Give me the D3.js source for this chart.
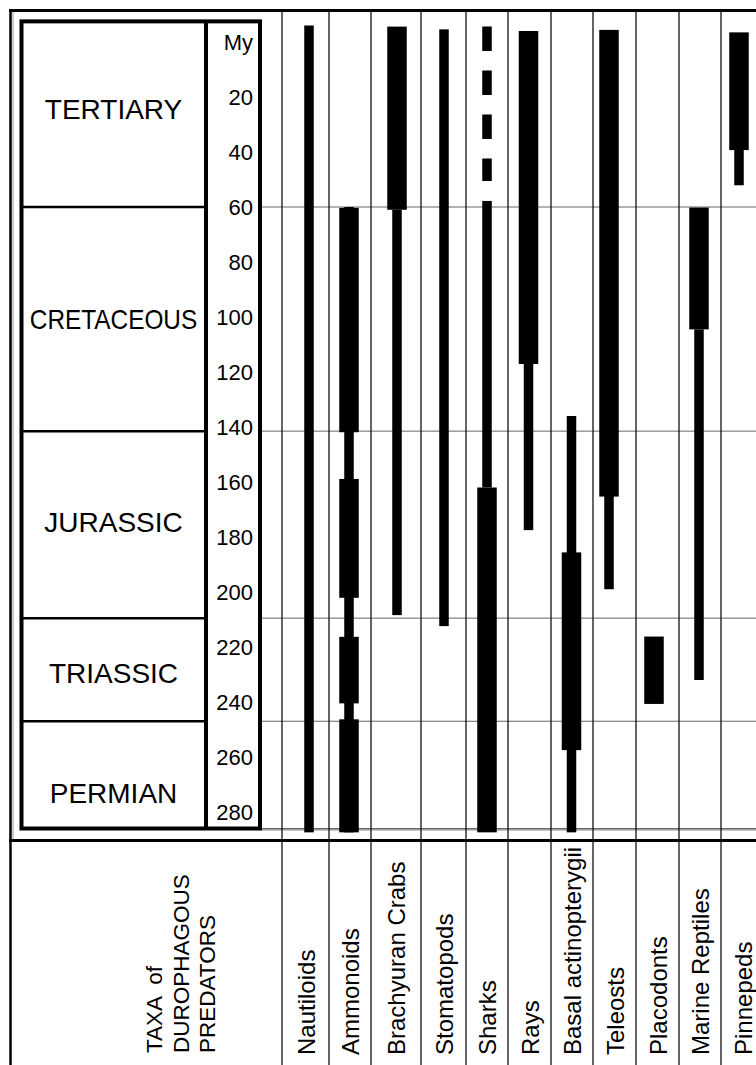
<!DOCTYPE html>
<html>
<head>
<meta charset="utf-8">
<script src="https://cdn.jsdelivr.net/npm/d3@7"></script>
<style>
  body { margin: 0; background: #fff; }
  svg { display: block; }
  text { font-family: "Liberation Sans", Arial, sans-serif; fill: #000; }
</style>
</head>
<body>
<svg width="756" height="1065"></svg>
<script>
// taxa and their stratigraphic ranges (My before present)
var taxa = ["Nautiloids", "Ammonoids", "Brachyuran Crabs", "Stomatopods", "Sharks", "Rays",
  "Basal actinopterygii", "Teleosts", "Placodonts", "Marine Reptiles", "Pinnepeds"]
var thinRanges = [[-6, 287.4], [60, 287.4], [61, 208.4], [-4.6, 212.4], [57.8, 162], [117, 177.5],
  [136, 287.4], [165, 199], null, [104.5, 232], [39, 52.1]]
var thickRanges = [[], [[60.3, 141.9], [158.9, 202.1], [216.3, 240.5], [246.3, 287.4]], [[-5.6, 61]], [],
  [[162, 287.4]], [[-4, 117.1]], [[185.6, 257.5]], [[-4.4, 165.3]], [[216.2, 240.7]], [[60.2, 104.5]], [[-3.5, 39.3]]]
var dashedRanges = [null, null, null, null, [-5.6, 50.5], null, null, null, null, null, null]

var periods = ["TERTIARY", "CRETACEOUS", "JURASSIC", "TRIASSIC", "PERMIAN"]
var periodBounds = [-7.5, 60, 141.5, 209.5, 247, 286]
var ageTicks = [20, 40, 60, 80, 100, 120, 140, 160, 180, 200, 220, 240, 260, 280]

// layout
var colWidths = [47, 42, 50, 45, 42, 43, 42, 43, 43, 42, 43]
var barShift = [3.5, -1, 1, 0.5, 0, -1, -0.5, -5.5, -3.5, -1, -3.5]
var periodLabelAt = [24.4, 100.7, 174.5, 229.5, 273]
var periodSqueeze = [1, 0.87, 1, 1, 1]
var colLeft = 282, thick = 19.5, thin = 9.5

var svg = d3.select('svg')
var width = 756, height = 1065

var y = d3.scaleLinear().domain([0, 280]).range([42, 812])
var edges = [colLeft].concat(Array.from(d3.cumsum(colWidths), d => colLeft + d))
var x = d3.scaleOrdinal().domain(taxa).range(edges.slice(0, -1))
var cx = (t, i) => x(t) + colWidths[i] / 2 + barShift[i]

// grid lines across the taxa columns
svg.append("g")
    .attr("stroke", "#666")
    .attr("stroke-width", 1)
  .selectAll("line")
  .data(periodBounds.slice(1).concat([286.5]))
  .join("line")
    .attr("x1", 261).attr("x2", width)
    .attr("y1", d => y(d)).attr("y2", d => y(d))

// column dividers
svg.append("g")
    .attr("stroke", "#111")
    .attr("stroke-width", 1.3)
  .selectAll("line")
  .data(edges.slice(0, -1))
  .join("line")
    .attr("x1", d => d).attr("x2", d => d)
    .attr("y1", 10).attr("y2", height)

// outer frame
svg.append("line").attr("x1", 9).attr("x2", width).attr("y1", 10.5).attr("y2", 10.5)
    .attr("stroke", "#000").attr("stroke-width", 3)
svg.append("line").attr("x1", 10.5).attr("x2", 10.5).attr("y1", 9).attr("y2", height)
    .attr("stroke", "#000").attr("stroke-width", 2.5)
svg.append("line").attr("x1", 13).attr("x2", 13).attr("y1", 12).attr("y2", 839)
    .attr("stroke", "#999").attr("stroke-width", 1)
svg.append("line").attr("x1", 9).attr("x2", width).attr("y1", 840.5).attr("y2", 840.5)
    .attr("stroke", "#000").attr("stroke-width", 3)

// time scale box
var box = svg.append("g")
box.append("rect")
    .attr("x", 21.5).attr("y", y(periodBounds[0]))
    .attr("width", 238.5).attr("height", y(periodBounds[5]) - y(periodBounds[0]))
    .attr("fill", "none").attr("stroke", "#000").attr("stroke-width", 4)
box.append("line").attr("x1", 206).attr("x2", 206)
    .attr("y1", y(periodBounds[0])).attr("y2", y(periodBounds[5]))
    .attr("stroke", "#000").attr("stroke-width", 4)
box.selectAll("line.sep")
  .data(periodBounds.slice(1, -1))
  .join("line")
    .attr("class", "sep")
    .attr("x1", 21.5).attr("x2", 206)
    .attr("y1", d => y(d)).attr("y2", d => y(d))
    .attr("stroke", "#000").attr("stroke-width", 2.5)

box.selectAll("text.period")
  .data(periods)
  .join("text")
    .attr("class", "period")
    .attr("transform", (d, i) => `translate(113.5,${y(periodLabelAt[i])}) scale(${periodSqueeze[i]},1)`)
    .attr("dy", "0.36em")
    .attr("text-anchor", "middle")
    .style("font-size", "28px")
    .text(d => d)

box.selectAll("text.tick")
  .data(ageTicks)
  .join("text")
    .attr("class", "tick")
    .attr("x", 253)
    .attr("y", d => y(d))
    .attr("dy", "0.36em")
    .attr("text-anchor", "end")
    .style("font-size", "22px")
    .text(d => d)
box.append("text")
    .attr("x", 253).attr("y", y(0)).attr("dy", "0.36em")
    .attr("text-anchor", "end")
    .style("font-size", "22px")
    .text("My")

// range bars
var bars = svg.append("g").attr("fill", "#000")
taxa.forEach((t, i) => {
  var c = cx(t, i)
  if (thinRanges[i]) {
    bars.append("rect")
        .attr("x", c - thin / 2).attr("width", thin)
        .attr("y", y(thinRanges[i][0])).attr("height", y(thinRanges[i][1]) - y(thinRanges[i][0]))
  }
  bars.selectAll(null)
    .data(thickRanges[i])
    .join("rect")
      .attr("x", c - thick / 2).attr("width", thick)
      .attr("y", d => y(d[0])).attr("height", d => y(d[1]) - y(d[0]))
  if (dashedRanges[i]) {
    svg.append("line")
        .attr("x1", c).attr("x2", c)
        .attr("y1", y(dashedRanges[i][0])).attr("y2", y(dashedRanges[i][1]))
        .attr("stroke", "#000").attr("stroke-width", thin)
        .attr("stroke-dasharray", "24.3 19.7")
  }
})

// bottom labels
var title = ["TAXA  of", "DUROPHAGOUS", "PREDATORS"]
svg.append("g").selectAll("text")
  .data(title)
  .join("text")
    .attr("transform", (d, i) => `translate(${162 + i * 26.6},1053) rotate(-90)`)
    .style("font-size", "22.5px")
    .style("white-space", "pre")
    .text(d => d)

svg.append("g").selectAll("text")
  .data(taxa)
  .join("text")
    .attr("transform", (d, i) => `translate(${x(d) + colWidths[i] / 2 + 9},1055) rotate(-90)`)
    .style("font-size", "24px")
    .text(d => d)
</script>
</body>
</html>
